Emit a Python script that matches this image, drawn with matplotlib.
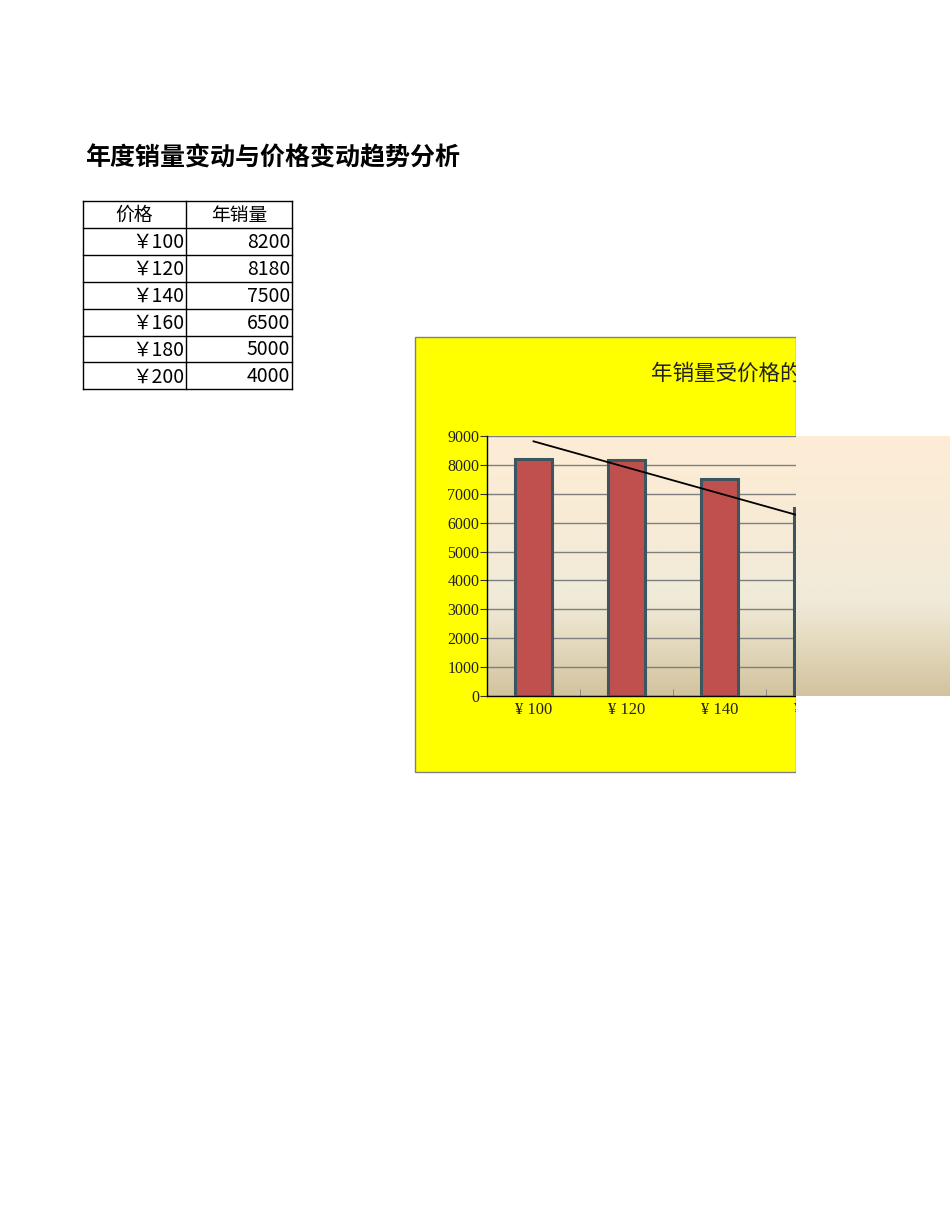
import numpy as np
import matplotlib
matplotlib.use('Agg')
import matplotlib.pyplot as plt
from matplotlib.patches import Rectangle
from matplotlib.colors import LinearSegmentedColormap
from matplotlib.transforms import Bbox

# data
prices = ['￥100', '￥120', '￥140', '￥160', '￥180', '￥200']
price_labels = ['¥ 100', '¥ 120', '¥ 140', '¥ 160', '¥ 180', '¥ 200']
sales = [8200, 8180, 7500, 6500, 5000, 4000]

W, H = 950, 1230
CJK = ['Noto Sans CJK SC', 'DejaVu Sans']
SERIF = ['Liberation Serif', 'Noto Sans CJK SC']

fig = plt.figure(figsize=(W / 100, H / 100), dpi=100)
fig.patch.set_facecolor('white')


def fx(x):
    return x / W


def fy(y):
    return 1 - y / H


def rect(x0, y0, x1, y1):
    return [fx(x0), fy(y1), fx(x1) - fx(x0), fy(y0) - fy(y1)]


# region kept by the chart frame (pixels, display coords are bottom-up)
chart_clip = Bbox.from_extents(415, H - 780, 796, H - 330)

# sheet title
fig.text(fx(85), fy(158), '年度销量变动与价格变动趋势分析', family=CJK,
         fontsize=18, fontweight='bold', va='center', ha='left')

# table
col_x = [83, 186, 292]
row_y0, row_h = 201, 26.9
nrows = len(prices) + 1
tab = fig.add_axes([0, 0, 1, 1], zorder=1)
tab.set_xlim(0, W)
tab.set_ylim(H, 0)
tab.axis('off')
tab.patch.set_alpha(0)
for r in range(nrows + 1):
    y = row_y0 + r * row_h
    tab.plot([col_x[0], col_x[-1]], [y, y], color='black', lw=1)
for x in col_x:
    tab.plot([x, x], [row_y0, row_y0 + nrows * row_h], color='black', lw=1)
tab.text((col_x[0] + col_x[1]) / 2, row_y0 + row_h / 2 + 1, '价格', family=CJK,
         fontsize=13.5, ha='center', va='center')
tab.text((col_x[1] + col_x[2]) / 2, row_y0 + row_h / 2 + 1, '年销量', family=CJK,
         fontsize=13.5, ha='center', va='center')
for i, (p, s) in enumerate(zip(prices, sales)):
    yc = row_y0 + (i + 1.5) * row_h + 1
    tab.text(col_x[1] - 1.5, yc, p, family=CJK, fontsize=14, ha='right', va='center')
    tab.text(col_x[2] - 2, yc, str(s), family=CJK, fontsize=14, ha='right', va='center')

# chart area (yellow), cut at the right
fig.add_artist(Rectangle((fx(415), fy(772)), fx(796) - fx(415), fy(337) - fy(772),
                         transform=fig.transFigure, facecolor='#FFFF00',
                         edgecolor='#808080', lw=1, zorder=1.5))

grad_cmap = LinearSegmentedColormap.from_list(
    'bg', [(0, '#FEEDD5'), (0.3, '#F8EBD6'), (0.62, '#F0EBDA'),
           (0.72, '#EAE2CB'), (1, '#D3C39E')])
grad = np.linspace(0, 1, 256).reshape(-1, 1)


def gradient_axes(x0, x1, z):
    g = fig.add_axes(rect(x0, 436, x1, 696), zorder=z)
    g.imshow(grad, aspect='auto', cmap=grad_cmap, extent=[0, 1, 1, 0])
    g.axis('off')
    return g


gradient_axes(487, 950, 2)

# main plot area, categories spaced 93 px -> runs past the page edge
ax = fig.add_axes(rect(487, 436, 487 + 93 * len(prices), 696), zorder=3)
ax.patch.set_alpha(0)
xs = np.arange(len(prices))
ax.bar(xs, sales, width=0.4, color='#C0504D', edgecolor='#3B5561', lw=2.2, zorder=3)
k, b = np.polyfit(xs, sales, 1)
ax.plot(xs, k * xs + b, color='black', lw=1.3, zorder=4)
ax.set_xlim(-0.5, len(prices) - 0.5)
ax.set_ylim(0, 9000)
ax.set_yticks(range(0, 9001, 1000))
ax.yaxis.grid(True, color='#7F7F7F', lw=1)
ax.set_axisbelow(True)
ax.set_xticks(xs)
ax.set_xticklabels(price_labels, family=SERIF, fontsize=12)
ax.tick_params(axis='x', length=0, pad=4)
ax.set_xticks(np.arange(0.5, len(prices) - 0.5), minor=True)
ax.tick_params(axis='x', which='minor', direction='in', length=5, color='#808080')
for lbl in ax.get_yticklabels():
    lbl.set_family(SERIF)
    lbl.set_fontsize(11.5)
ax.tick_params(axis='y', length=5, color='#333333', pad=0.5, labelcolor='#222222')
for lbl in ax.get_xticklabels():
    lbl.set_color('#222222')
    lbl.set_clip_box(chart_clip)
    lbl.set_clip_on(True)
# the last label lies past the page edge entirely
ax.get_xticklabels()[-1].set_visible(False)
for s in ['top', 'right']:
    ax.spines[s].set_visible(False)
for s in ['left', 'bottom']:
    ax.spines[s].set_color('black')
    ax.spines[s].set_linewidth(1)

# chart title, cut with the chart
ttl = fig.text(fx(651), fy(374), '年销量受价格的影响', family=CJK, fontsize=15.5,
               ha='left', va='center', color='#222222', zorder=3)
ttl.set_clip_box(chart_clip)
ttl.set_clip_on(True)

# cut: white over the right part of the chart, the gradient stays
fig.add_artist(Rectangle((fx(796), fy(785)), fx(W) - fx(796), fy(330) - fy(785),
                         transform=fig.transFigure, facecolor='white',
                         edgecolor='none', zorder=5))
gradient_axes(796, 950, 6)

fig.savefig('out.png', dpi=100)
